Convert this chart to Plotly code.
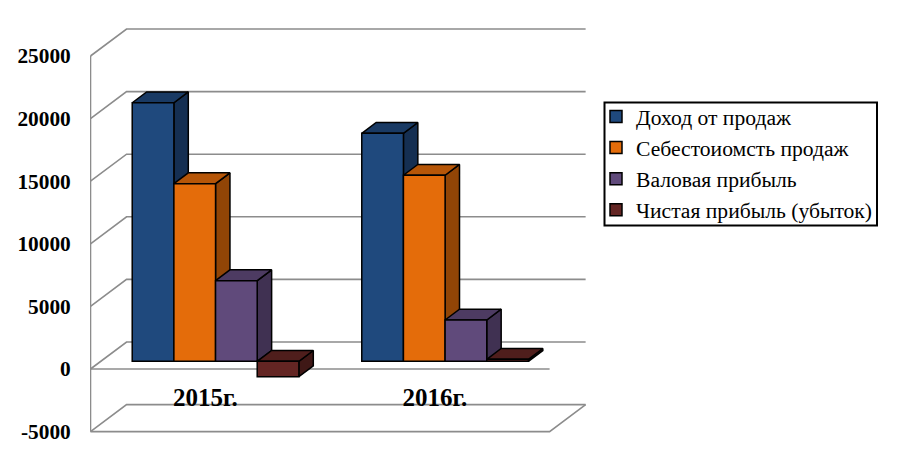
import plotly.graph_objects as go

# values
years = ["2015г.", "2016г."]
series_names = ["Доход от продаж", "Себестоиомсть продаж", "Валовая прибыль", "Чистая прибыль (убыток)"]
revenue = [20650, 18210]
cost = [14190, 14860]
gross_profit = [6440, 3300]
net_profit = [-1230, 160]
y_ticks = [-5000, 0, 5000, 10000, 15000, 20000, 25000]
y_labels = ["-5000", "0", "5000", "10000", "15000", "20000", "25000"]

series_values = [revenue, cost, gross_profit, net_profit]
front_colors = ["#1F497D", "#E46C0A", "#604A7B", "#632523"]
top_colors = ["#193A64", "#B65608", "#4D3B62", "#4F1E1C"]
side_colors = ["#152F52", "#914506", "#403152", "#3F1816"]

FONT = "Liberation Serif"
GRID = "#8C8C8C"

# fake 3d: how far one full step into the depth moves a point, in axis units
DEPTH_X = 0.157
DEPTH_Y = 2157
BAR_FRONT = 0.285
BAR_DEPTH = 0.4
BAR_W = 0.1815

fig = go.Figure()


def grid_line(xs, ys):
    fig.add_trace(go.Scatter(x=xs, y=ys, mode="lines", line=dict(color=GRID, width=1.6),
                             showlegend=False, hoverinfo="skip", zorder=0))


x_left, x_right = -0.5, 1.5
for tick in y_ticks:
    # diagonal on the left wall, then the line along the back wall
    grid_line([x_left, x_left + DEPTH_X, x_right + DEPTH_X],
              [tick, tick + DEPTH_Y, tick + DEPTH_Y])
grid_line([x_left, x_left], [y_ticks[0], y_ticks[-1]])
# front edges of the floor levels
grid_line([x_left, x_right], [0, 0])
grid_line([x_left, x_right, x_right + DEPTH_X],
          [y_ticks[0], y_ticks[0], y_ticks[0] + DEPTH_Y])

dx = DEPTH_X * BAR_DEPTH
dy = DEPTH_Y * BAR_DEPTH
shift_x = DEPTH_X * BAR_FRONT
shift_y = DEPTH_Y * BAR_FRONT

# painted left to right so that each bar covers the side of the previous one
for s, values in enumerate(series_values):
    side_x, side_y, top_x, top_y, bar_x = [], [], [], [], []
    for i, v in enumerate(values):
        xc = i + shift_x + (s - 1.5) * BAR_W
        xl, xr = xc - BAR_W / 2, xc + BAR_W / 2
        y_top = shift_y + max(v, 0)
        y_bot = shift_y + min(v, 0)
        bar_x.append(xc)
        side_x += [xr, xr + dx, xr + dx, xr, xr, None]
        side_y += [y_top, y_top + dy, y_bot + dy, y_bot, y_top, None]
        top_x += [xl, xr, xr + dx, xl + dx, xl, None]
        top_y += [y_top, y_top, y_top + dy, y_top + dy, y_top, None]
    z = 1 + s * 3
    fig.add_trace(go.Scatter(x=side_x, y=side_y, mode="lines", fill="toself", fillcolor=side_colors[s],
                             line=dict(color="black", width=1.5), showlegend=False,
                             hoverinfo="skip", zorder=z))
    fig.add_trace(go.Scatter(x=top_x, y=top_y, mode="lines", fill="toself", fillcolor=top_colors[s],
                             line=dict(color="black", width=1.5), showlegend=False,
                             hoverinfo="skip", zorder=z + 1))
    fig.add_trace(go.Bar(x=bar_x, y=values, base=[shift_y] * len(values), width=BAR_W,
                         name=series_names[s], legendgroup=series_names[s],
                         marker=dict(color=front_colors[s], line=dict(color="black", width=1.5)),
                         zorder=z + 2))

# the page has an 8px body margin, so the figure starts at (8, 8)
fig.update_layout(
    width=892, height=451,
    margin=dict(l=82, r=300, t=12, b=19, autoexpand=False),
    paper_bgcolor="white", plot_bgcolor="white",
    barmode="overlay",
    font=dict(family=FONT, color="black"),
    legend=dict(x=(606 - 90) / 510, y=(440 - 96) / 420, xanchor="left", yanchor="top",
                bgcolor="rgba(0,0,0,0)", borderwidth=0,
                font=dict(family=FONT, size=21.6, color="black"),
                tracegroupgap=0, indentation=-10),
    # legend frame drawn apart, plotly's own padding makes its box too tall
    shapes=[dict(type="rect", xref="paper", yref="paper",
                 x0=(604.5 - 90) / 510, x1=(877 - 90) / 510,
                 y0=(440 - 225.5) / 420, y1=(440 - 102.5) / 420,
                 line=dict(color="black", width=2), fillcolor="white", layer="above")],
)
fig.update_xaxes(range=[-0.5022, 1.7196], showgrid=False, zeroline=False, showline=False,
                 tickmode="array", tickvals=[0, 1], ticktext=years, ticks="",
                 tickfont=dict(family=FONT, size=25, color="black", weight="bold"),
                 anchor="free", position=0.142)
fig.update_yaxes(range=[-5671, 27875], showgrid=False, zeroline=False, showline=False,
                 tickmode="array", tickvals=y_ticks, ticktext=y_labels, ticks="outside", ticklen=14,
                 tickcolor="rgba(0,0,0,0)",
                 tickfont=dict(family=FONT, size=21.33, color="black", weight="bold"))

fig.write_html("out.html")
